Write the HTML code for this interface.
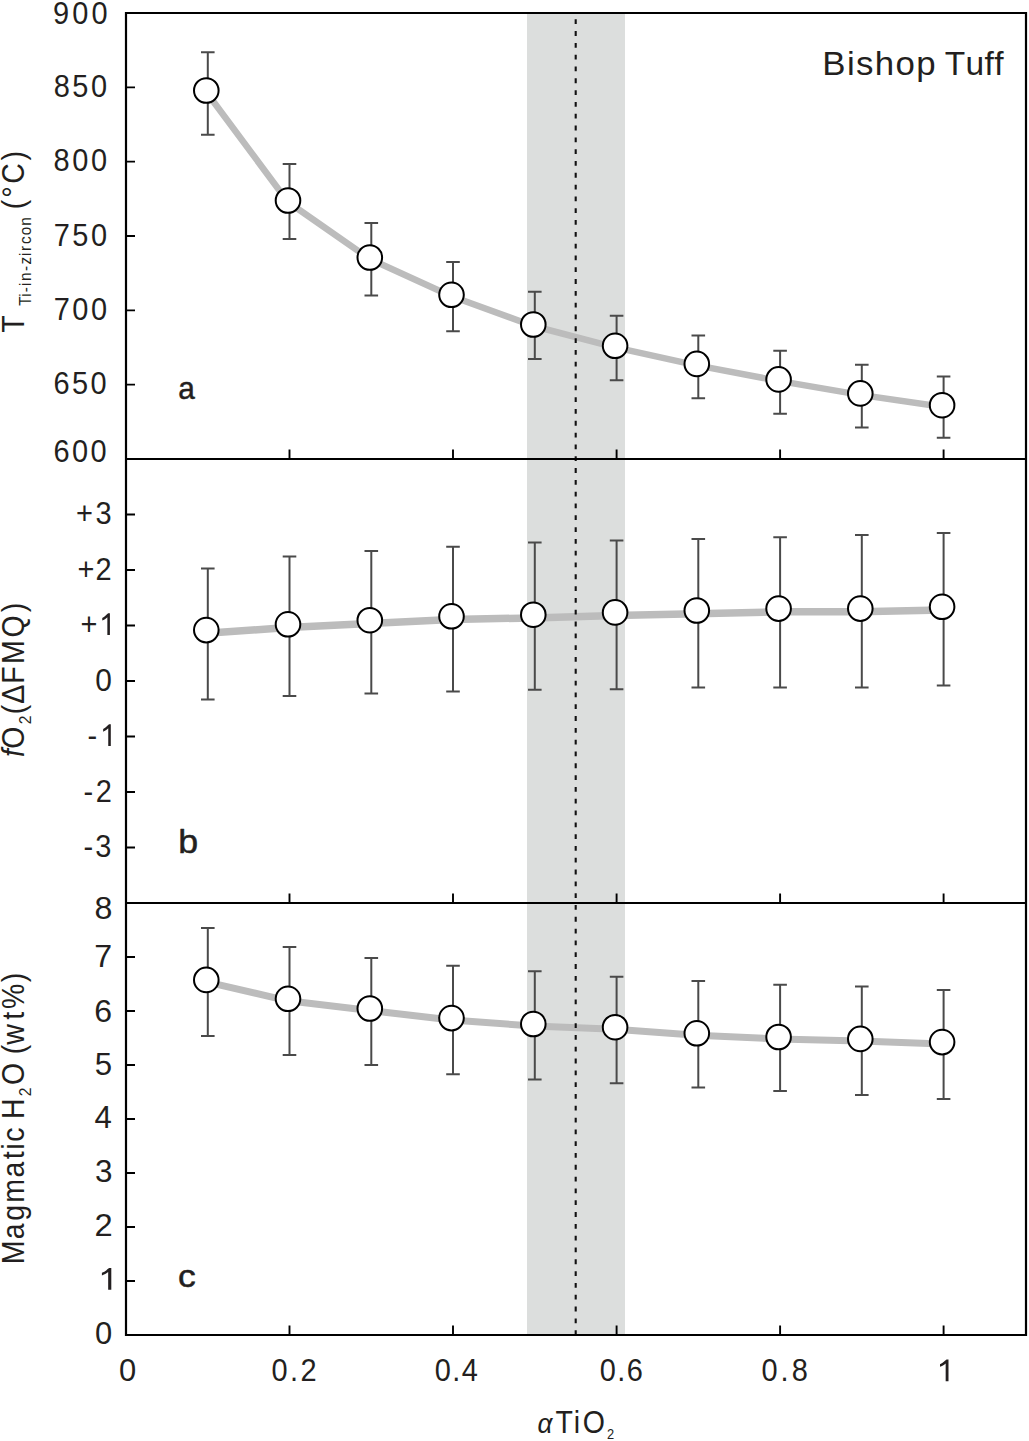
<!DOCTYPE html><html><head><meta charset="utf-8"><style>html,body{margin:0;padding:0;background:#fff;overflow:hidden;}svg{display:block;}text{font-family:"Liberation Sans",sans-serif;fill:#231f20;font-kerning:none;}</style></head><body>
<svg width="1029" height="1441" viewBox="0 0 1029 1441">
<rect width="1029" height="1441" fill="#fff"/>
<rect x="527" y="13" width="98" height="1322" fill="#dcdedd"/>
<polyline points="206.3,92.0 288.0,202.0 369.8,259.0 451.5,296.3 533.3,326.0 615.1,347.3 696.8,365.4 778.6,380.9 860.3,394.9 942.1,406.7" fill="none" stroke="#bcbcbc" stroke-width="6.5" stroke-linejoin="round" stroke-linecap="round"/>
<polyline points="206.3,633.3 288.0,627.5 369.8,623.4 451.5,619.5 533.3,617.9 615.1,615.6 696.8,613.7 778.6,611.8 860.3,611.8 942.1,610.0" fill="none" stroke="#bcbcbc" stroke-width="7.5" stroke-linejoin="round" stroke-linecap="round"/>
<polyline points="206.3,981.9 288.0,1000.8 369.8,1010.5 451.5,1020.1 533.3,1026.0 615.1,1029.2 696.8,1035.3 778.6,1039.0 860.3,1040.9 942.1,1044.1" fill="none" stroke="#bcbcbc" stroke-width="7.0" stroke-linejoin="round" stroke-linecap="round"/>
<line x1="575.7" y1="19.30" x2="575.7" y2="1335.0" stroke="#111" stroke-width="2.1" stroke-dasharray="4.8 7.01"/>
<path d="M207.8 52.2V134.8M201.0 52.2H214.6M201.0 134.8H214.6M289.5 164.0V238.9M282.7 164.0H296.3M282.7 238.9H296.3M371.3 223.0V295.6M364.5 223.0H378.1M364.5 295.6H378.1M453.0 262.1V331.2M446.2 262.1H459.8M446.2 331.2H459.8M534.8 291.8V358.9M528.0 291.8H541.6M528.0 358.9H541.6M616.6 315.7V380.2M609.8 315.7H623.4M609.8 380.2H623.4M698.3 335.6V398.3M691.5 335.6H705.1M691.5 398.3H705.1M780.1 350.7V413.8M773.3 350.7H786.9M773.3 413.8H786.9M861.8 364.7V427.4M855.0 364.7H868.6M855.0 427.4H868.6M943.6 376.6V437.7M936.8 376.6H950.4M936.8 437.7H950.4" stroke="#4a4a4a" stroke-width="2" fill="none"/>
<circle cx="206.3" cy="90.5" r="12.3" fill="#fff" stroke="#000" stroke-width="2.0"/>
<circle cx="288.0" cy="200.5" r="12.3" fill="#fff" stroke="#000" stroke-width="2.0"/>
<circle cx="369.8" cy="257.5" r="12.3" fill="#fff" stroke="#000" stroke-width="2.0"/>
<circle cx="451.5" cy="294.8" r="12.3" fill="#fff" stroke="#000" stroke-width="2.0"/>
<circle cx="533.3" cy="324.5" r="12.3" fill="#fff" stroke="#000" stroke-width="2.0"/>
<circle cx="615.1" cy="345.8" r="12.3" fill="#fff" stroke="#000" stroke-width="2.0"/>
<circle cx="696.8" cy="363.9" r="12.3" fill="#fff" stroke="#000" stroke-width="2.0"/>
<circle cx="778.6" cy="379.4" r="12.3" fill="#fff" stroke="#000" stroke-width="2.0"/>
<circle cx="860.3" cy="393.4" r="12.3" fill="#fff" stroke="#000" stroke-width="2.0"/>
<circle cx="942.1" cy="405.2" r="12.3" fill="#fff" stroke="#000" stroke-width="2.0"/>
<path d="M207.8 568.5V699.4M201.0 568.5H214.6M201.0 699.4H214.6M289.5 556.4V695.9M282.7 556.4H296.3M282.7 695.9H296.3M371.3 550.9V693.6M364.5 550.9H378.1M364.5 693.6H378.1M453.0 546.7V691.4M446.2 546.7H459.8M446.2 691.4H459.8M534.8 542.4V689.8M528.0 542.4H541.6M528.0 689.8H541.6M616.6 540.5V689.3M609.8 540.5H623.4M609.8 689.3H623.4M698.3 539.1V687.4M691.5 539.1H705.1M691.5 687.4H705.1M780.1 537.3V687.4M773.3 537.3H786.9M773.3 687.4H786.9M861.8 534.9V687.4M855.0 534.9H868.6M855.0 687.4H868.6M943.6 533.0V685.6M936.8 533.0H950.4M936.8 685.6H950.4" stroke="#4a4a4a" stroke-width="2" fill="none"/>
<circle cx="206.3" cy="630.1" r="12.3" fill="#fff" stroke="#000" stroke-width="2.0"/>
<circle cx="288.0" cy="624.3" r="12.3" fill="#fff" stroke="#000" stroke-width="2.0"/>
<circle cx="369.8" cy="620.2" r="12.3" fill="#fff" stroke="#000" stroke-width="2.0"/>
<circle cx="451.5" cy="616.3" r="12.3" fill="#fff" stroke="#000" stroke-width="2.0"/>
<circle cx="533.3" cy="614.7" r="12.3" fill="#fff" stroke="#000" stroke-width="2.0"/>
<circle cx="615.1" cy="612.4" r="12.3" fill="#fff" stroke="#000" stroke-width="2.0"/>
<circle cx="696.8" cy="610.5" r="12.3" fill="#fff" stroke="#000" stroke-width="2.0"/>
<circle cx="778.6" cy="608.6" r="12.3" fill="#fff" stroke="#000" stroke-width="2.0"/>
<circle cx="860.3" cy="608.6" r="12.3" fill="#fff" stroke="#000" stroke-width="2.0"/>
<circle cx="942.1" cy="606.8" r="12.3" fill="#fff" stroke="#000" stroke-width="2.0"/>
<path d="M207.8 928.0V1036.0M201.0 928.0H214.6M201.0 1036.0H214.6M289.5 946.9V1055.0M282.7 946.9H296.3M282.7 1055.0H296.3M371.3 958.1V1064.9M364.5 958.1H378.1M364.5 1064.9H378.1M453.0 965.8V1074.2M446.2 965.8H459.8M446.2 1074.2H459.8M534.8 971.2V1079.5M528.0 971.2H541.6M528.0 1079.5H541.6M616.6 976.8V1083.2M609.8 976.8H623.4M609.8 1083.2H623.4M698.3 981.0V1087.4M691.5 981.0H705.1M691.5 1087.4H705.1M780.1 984.8V1091.1M773.3 984.8H786.9M773.3 1091.1H786.9M861.8 986.6V1094.9M855.0 986.6H868.6M855.0 1094.9H868.6M943.6 989.9V1099.0M936.8 989.9H950.4M936.8 1099.0H950.4" stroke="#4a4a4a" stroke-width="2" fill="none"/>
<circle cx="206.3" cy="979.9" r="12.3" fill="#fff" stroke="#000" stroke-width="2.0"/>
<circle cx="288.0" cy="998.8" r="12.3" fill="#fff" stroke="#000" stroke-width="2.0"/>
<circle cx="369.8" cy="1008.5" r="12.3" fill="#fff" stroke="#000" stroke-width="2.0"/>
<circle cx="451.5" cy="1018.1" r="12.3" fill="#fff" stroke="#000" stroke-width="2.0"/>
<circle cx="533.3" cy="1024.0" r="12.3" fill="#fff" stroke="#000" stroke-width="2.0"/>
<circle cx="615.1" cy="1027.2" r="12.3" fill="#fff" stroke="#000" stroke-width="2.0"/>
<circle cx="696.8" cy="1033.3" r="12.3" fill="#fff" stroke="#000" stroke-width="2.0"/>
<circle cx="778.6" cy="1037.0" r="12.3" fill="#fff" stroke="#000" stroke-width="2.0"/>
<circle cx="860.3" cy="1038.9" r="12.3" fill="#fff" stroke="#000" stroke-width="2.0"/>
<circle cx="942.1" cy="1042.1" r="12.3" fill="#fff" stroke="#000" stroke-width="2.0"/>
<path d="M126 13H1026V1335H126Z" fill="none" stroke="#000" stroke-width="2.2"/>
<path d="M126 459H1026M126 903H1026" stroke="#000" stroke-width="2.2"/>
<path d="M126 87.3H135M126 161.7H135M126 236.0H135M126 310.3H135M126 384.7H135M126 459.0H135M126 514.5H135M126 570.0H135M126 625.5H135M126 681.0H135M126 736.5H135M126 792.0H135M126 847.5H135M126 957.0H135M126 1011.0H135M126 1065.0H135M126 1119.0H135M126 1173.0H135M126 1227.0H135M126 1281.0H135" stroke="#000" stroke-width="1.8"/>
<path d="M289.5 459V449.5M453.0 459V449.5M616.6 459V449.5M780.1 459V449.5M943.6 459V449.5M289.5 903V893.5M453.0 903V893.5M616.6 903V893.5M780.1 903V893.5M943.6 903V893.5M289.5 1335V1325.5M453.0 1335V1325.5M616.6 1335V1325.5M780.1 1335V1325.5M943.6 1335V1325.5" stroke="#000" stroke-width="1.9"/>
<g transform="translate(53.04 24.14) scale(0.9200 1)"><text x="0.00 20.91 41.82" y="0" font-size="31.50">900</text></g>
<g transform="translate(53.64 96.59) scale(0.9200 1)"><text x="0.00 20.37 40.73" y="0" font-size="31.50">850</text></g>
<g transform="translate(53.54 171.24) scale(0.9200 1)"><text x="0.00 20.31 40.62" y="0" font-size="31.50">800</text></g>
<g transform="translate(53.71 246.34) scale(0.9200 1)"><text x="0.00 20.22 40.44" y="0" font-size="31.50">750</text></g>
<g transform="translate(53.71 320.19) scale(0.9200 1)"><text x="0.00 20.22 40.44" y="0" font-size="31.50">700</text></g>
<g transform="translate(53.43 394.44) scale(0.9200 1)"><text x="0.00 20.21 40.42" y="0" font-size="31.50">650</text></g>
<g transform="translate(53.43 461.79) scale(0.9200 1)"><text x="0.00 20.21 40.42" y="0" font-size="31.50">600</text></g>
<g transform="translate(76.08 524.49) scale(0.9200 1)"><text x="0.00 21.06" y="0" font-size="31.50">+3</text></g>
<g transform="translate(77.48 580.10) scale(0.9200 1)"><text x="0.00 19.63" y="0" font-size="31.50">+2</text></g>
<g transform="translate(80.48 634.89) scale(0.9200 1)"><text x="0.00" y="0" font-size="31.50">+</text><path d="M763 0L583 0L583 1147C540 1106 483 1064 413 1023C343 982 280 951 223 930L223 1104C323 1151 410 1208 485 1274C560 1340 613 1405 644 1409L763 1409Z" transform="translate(20.24 0) scale(0.01538 -0.01538)" fill="#231f20"/></g>
<g transform="translate(95.13 691.09) scale(0.9497 1)"><text x="0.00" y="0" font-size="31.50">0</text></g>
<g transform="translate(87.61 745.94) scale(0.9200 1)"><text x="0.00" y="0" font-size="31.50">-</text><path d="M763 0L583 0L583 1147C540 1106 483 1064 413 1023C343 982 280 951 223 930L223 1104C323 1151 410 1208 485 1274C560 1340 613 1405 644 1409L763 1409Z" transform="translate(13.47 0) scale(0.01538 -0.01538)" fill="#231f20"/></g>
<g transform="translate(83.51 802.25) scale(0.9200 1)"><text x="0.00 13.29" y="0" font-size="31.50">-2</text></g>
<g transform="translate(83.61 856.94) scale(0.9200 1)"><text x="0.00 12.77" y="0" font-size="31.50">-3</text></g>
<g transform="translate(94.50 918.84) scale(1.0216 1)"><text x="0.00" y="0" font-size="31.50">8</text></g>
<g transform="translate(94.35 966.89) scale(1.0196 1)"><text x="0.00" y="0" font-size="31.50">7</text></g>
<g transform="translate(94.37 1021.74) scale(1.0182 1)"><text x="0.00" y="0" font-size="31.50">6</text></g>
<g transform="translate(94.75 1075.38) scale(0.9910 1)"><text x="0.00" y="0" font-size="31.50">5</text></g>
<g transform="translate(94.38 1127.74) scale(0.9891 1)"><text x="0.00" y="0" font-size="31.50">4</text></g>
<g transform="translate(94.90 1182.09) scale(0.9977 1)"><text x="0.00" y="0" font-size="31.50">3</text></g>
<g transform="translate(94.46 1236.00) scale(1.0383 1)"><text x="0.00" y="0" font-size="31.50">2</text></g>
<g transform="translate(98.02 1289.74) scale(1.1318 1)"><path d="M763 0L583 0L583 1147C540 1106 483 1064 413 1023C343 982 280 951 223 930L223 1104C323 1151 410 1208 485 1274C560 1340 613 1405 644 1409L763 1409Z" transform="translate(0.00 0) scale(0.01538 -0.01538)" fill="#231f20"/></g>
<g transform="translate(94.99 1344.34) scale(0.9829 1)"><text x="0.00" y="0" font-size="31.50">0</text></g>
<g transform="translate(118.89 1381.14) scale(0.9829 1)"><text x="0.00" y="0" font-size="31.50">0</text></g>
<g transform="translate(271.47 1381.14) scale(0.9200 1)"><text x="0.00 20.13 31.49" y="0" font-size="31.50">0.2</text></g>
<g transform="translate(434.77 1381.14) scale(0.9200 1)"><text x="0.00 19.09 29.42" y="0" font-size="31.50">0.4</text></g>
<g transform="translate(599.67 1381.14) scale(0.9200 1)"><text x="0.00 19.11 29.44" y="0" font-size="31.50">0.6</text></g>
<g transform="translate(761.47 1381.14) scale(0.9200 1)"><text x="0.00 20.78 32.80" y="0" font-size="31.50">0.8</text></g>
<g transform="translate(936.49 1381.14) scale(1.0234 1)"><path d="M763 0L583 0L583 1147C540 1106 483 1064 413 1023C343 982 280 951 223 930L223 1104C323 1151 410 1208 485 1274C560 1340 613 1405 644 1409L763 1409Z" transform="translate(0.00 0) scale(0.01538 -0.01538)" fill="#231f20"/></g>
<g transform="translate(537.57 1432.60) scale(0.9200 1)"><text x="0.00" y="0" font-size="28.50" font-style="italic">α</text></g>
<g transform="translate(555.55 1432.60) scale(0.9200 1)"><text x="0.00" y="0" font-size="31.00">T</text></g>
<g transform="translate(573.74 1432.60) scale(0.9200 1)"><text x="0.00" y="0" font-size="31.00">i</text></g>
<g transform="translate(582.82 1432.60) scale(0.9200 1)"><text x="0.00" y="0" font-size="31.00">O</text></g>
<g transform="translate(607.12 1439.20) scale(0.9200 1)"><text x="0.00" y="0" font-size="14.00">2</text></g>
<g transform="translate(822.34 74.90) scale(1.0400 1)"><text x="0.00 23.65 32.40 50.46 70.39 90.33" y="0" font-size="33.50">Bishop</text></g>
<g transform="translate(944.65 74.90) scale(1.0000 1)"><text x="0.00 20.89 39.96 49.70" y="0" font-size="33.50">Tuff</text></g>
<g transform="translate(178.33 398.60) scale(0.9308 1)"><text x="0.00" y="0" font-size="32.00" stroke="#231f20" stroke-width="0.5" stroke-linejoin="round">a</text></g>
<g transform="translate(178.19 852.60) scale(1.0687 1)"><text x="0.00" y="0" font-size="33.50" stroke="#231f20" stroke-width="0.5" stroke-linejoin="round">b</text></g>
<g transform="translate(178.09 1286.80) scale(1.1089 1)"><text x="0.00" y="0" font-size="32.00" stroke="#231f20" stroke-width="0.5" stroke-linejoin="round">c</text></g>
<g transform="translate(24.30 332.75) rotate(-90) scale(0.9200 1)"><text x="0.00" y="0" font-size="31.00">T</text></g>
<g transform="translate(30.80 305.86) rotate(-90) scale(0.9200 1)"><text x="0.00" y="0" font-size="16.60">T</text></g>
<g transform="translate(30.80 296.84) rotate(-90) scale(0.9200 1)"><text x="0.00" y="0" font-size="16.60">i</text></g>
<g transform="translate(30.80 292.34) rotate(-90) scale(0.9200 1)"><text x="0.00" y="0" font-size="16.60">-</text></g>
<g transform="translate(30.80 285.99) rotate(-90) scale(0.9200 1)"><text x="0.00" y="0" font-size="16.60">i</text></g>
<g transform="translate(30.80 281.11) rotate(-90) scale(0.9200 1)"><text x="0.00" y="0" font-size="16.60">n</text></g>
<g transform="translate(30.80 270.89) rotate(-90) scale(0.9200 1)"><text x="0.00" y="0" font-size="16.60">-</text></g>
<g transform="translate(30.80 264.45) rotate(-90) scale(0.9200 1)"><text x="0.00" y="0" font-size="16.60">z</text></g>
<g transform="translate(30.80 255.94) rotate(-90) scale(0.9200 1)"><text x="0.00" y="0" font-size="16.60">i</text></g>
<g transform="translate(30.80 250.97) rotate(-90) scale(0.9200 1)"><text x="0.00" y="0" font-size="16.60">r</text></g>
<g transform="translate(30.80 243.89) rotate(-90) scale(0.9200 1)"><text x="0.00" y="0" font-size="16.60">c</text></g>
<g transform="translate(30.80 235.25) rotate(-90) scale(0.9200 1)"><text x="0.00" y="0" font-size="16.60">o</text></g>
<g transform="translate(30.80 225.81) rotate(-90) scale(0.9200 1)"><text x="0.00" y="0" font-size="16.60">n</text></g>
<g transform="translate(24.20 209.20) rotate(-90) scale(0.9200 1)"><text x="0.00" y="0" font-size="31.00">(</text></g>
<g transform="translate(24.20 197.75) rotate(-90) scale(0.9200 1)"><text x="0.00" y="0" font-size="31.00">°</text></g>
<g transform="translate(24.20 183.78) rotate(-90) scale(0.9200 1)"><text x="0.00" y="0" font-size="31.00">C</text></g>
<g transform="translate(24.20 160.45) rotate(-90) scale(0.9200 1)"><text x="0.00" y="0" font-size="31.00">)</text></g>
<g transform="translate(24.20 757.07) rotate(-90) scale(0.9200 1)"><text x="0.00" y="0" font-size="31.00" font-style="italic">f</text></g>
<g transform="translate(24.20 748.73) rotate(-90) scale(0.9200 1)"><text x="0.00" y="0" font-size="31.00">O</text></g>
<g transform="translate(30.80 724.20) rotate(-90) scale(0.9200 1)"><text x="0.00" y="0" font-size="17.00">2</text></g>
<g transform="translate(24.20 714.30) rotate(-90) scale(0.9200 1)"><text x="0.00" y="0" font-size="31.00">(</text></g>
<g transform="translate(24.20 703.67) rotate(-90) scale(0.9200 1)"><text x="0.00" y="0" font-size="31.00">Δ</text></g>
<g transform="translate(24.20 683.86) rotate(-90) scale(0.9200 1)"><text x="0.00" y="0" font-size="31.00">F</text></g>
<g transform="translate(24.20 663.93) rotate(-90) scale(0.9200 1)"><text x="0.00" y="0" font-size="31.00">M</text></g>
<g transform="translate(24.20 637.53) rotate(-90) scale(0.9200 1)"><text x="0.00" y="0" font-size="31.00">Q</text></g>
<g transform="translate(24.20 612.25) rotate(-90) scale(0.9200 1)"><text x="0.00" y="0" font-size="31.00">)</text></g>
<g transform="translate(24.20 1264.28) rotate(-90) scale(0.9200 1)"><text x="0.00" y="0" font-size="31.00">M</text></g>
<g transform="translate(24.20 1239.19) rotate(-90) scale(0.9200 1)"><text x="0.00" y="0" font-size="31.00">a</text></g>
<g transform="translate(24.20 1220.81) rotate(-90) scale(0.9200 1)"><text x="0.00" y="0" font-size="31.00">g</text></g>
<g transform="translate(24.20 1202.69) rotate(-90) scale(0.9200 1)"><text x="0.00" y="0" font-size="31.00">m</text></g>
<g transform="translate(24.20 1177.44) rotate(-90) scale(0.9200 1)"><text x="0.00" y="0" font-size="31.00">a</text></g>
<g transform="translate(24.20 1159.25) rotate(-90) scale(0.9200 1)"><text x="0.00" y="0" font-size="31.00">t</text></g>
<g transform="translate(24.20 1149.71) rotate(-90) scale(0.9200 1)"><text x="0.00" y="0" font-size="31.00">i</text></g>
<g transform="translate(24.20 1141.71) rotate(-90) scale(0.9200 1)"><text x="0.00" y="0" font-size="31.00">c</text></g>
<g transform="translate(24.20 1118.88) rotate(-90) scale(0.9200 1)"><text x="0.00" y="0" font-size="31.00">H</text></g>
<g transform="translate(31.00 1096.15) rotate(-90) scale(0.9200 1)"><text x="0.00" y="0" font-size="17.00">2</text></g>
<g transform="translate(24.20 1084.93) rotate(-90) scale(0.9200 1)"><text x="0.00" y="0" font-size="31.00">O</text></g>
<g transform="translate(24.20 1054.35) rotate(-90) scale(0.9200 1)"><text x="0.00" y="0" font-size="31.00">(</text></g>
<g transform="translate(24.20 1044.81) rotate(-90) scale(0.9200 1)"><text x="0.00" y="0" font-size="31.00">w</text></g>
<g transform="translate(24.20 1019.87) rotate(-90) scale(0.9200 1)"><text x="0.00" y="0" font-size="31.00">t</text></g>
<g transform="translate(24.20 1009.08) rotate(-90) scale(0.9200 1)"><text x="0.00" y="0" font-size="31.00">%</text></g>
<g transform="translate(24.20 982.35) rotate(-90) scale(0.9200 1)"><text x="0.00" y="0" font-size="31.00">)</text></g>
</svg></body></html>
